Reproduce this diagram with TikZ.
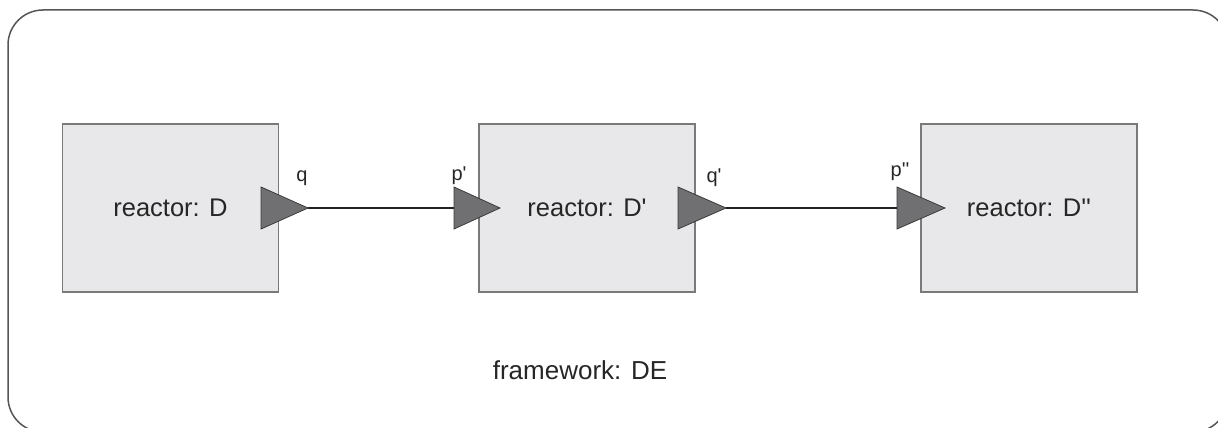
\documentclass[tikz,border=0pt]{standalone}
\usepackage{fontspec}
% a family without the TeX ligature mapping keeps ' as a straight tick
\newfontfamily\diagfont{Liberation Sans}
\definecolor{frameline}{HTML}{555555}
\definecolor{boxfill}{HTML}{E8E8EA}
\definecolor{boxline}{HTML}{7A7A7A}
\definecolor{portfill}{HTML}{707072}
\definecolor{portline}{HTML}{3A3A3A}
\definecolor{wire}{HTML}{222222}
\begin{document}
\begin{tikzpicture}[x=1pt,y=1pt,
  reactor/.style={draw=boxline, fill=boxfill, line width=1.2pt,
    minimum width=216pt, minimum height=168pt, inner sep=0pt,
    font=\diagfont\fontsize{25.5}{28}\selectfont, text=black!85},
  portlabel/.style={font=\diagfont\fontsize{20}{22}\selectfont, text=black!85, inner sep=0pt},
  port/.style={fill=portfill, draw=portline, line width=0.8pt},
  wireline/.style={draw=wire, line width=2.6pt}]
\useasboundingbox (0,0) rectangle (1218,-428);
% enclosing framework
\draw[frameline, line width=1.5pt, rounded corners=35pt] (8,-10) rectangle (1228,-432);
% reactors
\node[reactor] (D)  at (170.5,-208) {reactor: D};
\node[reactor] (D1) at (587,-208) {reactor: D'};
\node[reactor] (D2) at (1029,-208) {reactor: D''};
% ports (triangles straddling the reactor borders)
\draw[port] (261,-187) -- (261,-229) -- (308,-208) -- cycle;
\draw[port] (454,-187) -- (454,-229) -- (500,-208) -- cycle;
\draw[port] (678,-187) -- (678,-229) -- (726,-208) -- cycle;
\draw[port] (897,-187) -- (897,-229) -- (945,-208) -- cycle;
\coordinate (qout)  at (308,-208);
\coordinate (p1in)  at (454,-208);
\coordinate (q1out) at (726,-208);
\coordinate (p2in)  at (897,-208);
% connections
\draw[wireline] (qout) -- (p1in);
\draw[wireline] (q1out) -- (p2in);
% port labels
\node[portlabel] (lq)  at (302,-178) {q};
\node[portlabel] (lp1) at (459,-176) {p'};
\node[portlabel] (lq1) at (714,-178) {q'};
\node[portlabel] (lp2) at (900,-172) {p''};
% framework label
\node[font=\diagfont\fontsize{26}{30}\selectfont, text=black!85] (fw) at (580,-370) {framework: DE};
\end{tikzpicture}
\end{document}
